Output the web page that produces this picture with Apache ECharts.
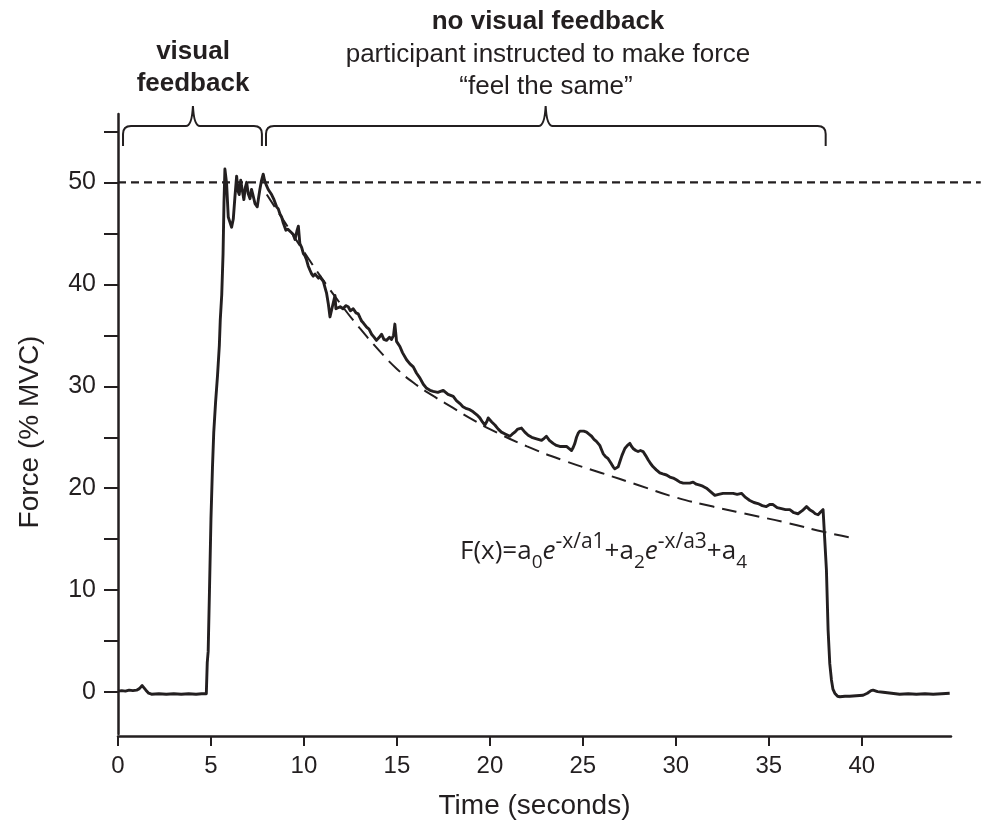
<!DOCTYPE html>
<html>
<head>
<meta charset="utf-8">
<script src="https://cdn.jsdelivr.net/npm/echarts@6/dist/echarts.min.js"></script>
<style>
  html, body { margin: 0; padding: 0; background: #ffffff; }
  #chart { width: 987px; height: 829px; }
</style>
</head>
<body>
<div id="chart"></div>
<script>
// Axis ticks and labels
const timeTicks = [0, 5, 10, 15, 20, 25, 30, 35, 40];
const forceTicks = [0, 5, 10, 15, 20, 25, 30, 35, 40, 45, 50, 55];
const forceLabels = [0, 10, 20, 30, 40, 50];

// Target force level (% MVC) and the time span of its dashed guide
const targetForce = 50;
const targetSpan = [0, 46.4];

// Feedback phases: [start, end, centre] in seconds
const phaseVisual = [0.27, 7.74, 4.03];
const phaseNoVisual = [7.96, 38.06, 23.0];

// Fitted double-exponential decay [time s, force %MVC]
const fitCurve = [
  [8.0, 48.8], [9.0, 46.0], [10.0, 43.2], [11.0, 40.5], [12.0, 38.0], [13.0, 35.7],
  [14.0, 33.6], [15.0, 31.7], [16.0, 30.2], [17.0, 29.0], [18.0, 27.9], [19.0, 26.8],
  [20.0, 25.8], [22.0, 24.1], [24.0, 22.7], [26.0, 21.5], [28.0, 20.3], [30.0, 19.1],
  [32.0, 18.2], [34.0, 17.4], [36.0, 16.6], [38.0, 15.7], [39.3, 15.2]
];

// Recorded force trace [time s, force %MVC]
const forceTrace = [
  [0, 0.1], [0.2, 0.15], [0.4, 0.1], [0.6, 0.2], [0.8, 0.15], [1.0, 0.2], [1.15, 0.35],
  [1.3, 0.65], [1.4, 0.55], [1.5, 0.2], [1.65, -0.1], [1.8, -0.2], [2.2, -0.15], [2.6, -0.2],
  [3.0, -0.15], [3.4, -0.2], [3.8, -0.15], [4.2, -0.2], [4.5, -0.15], [4.75, -0.15],
  [4.8, 2.9], [4.85, 4.0], [4.92, 10], [5.0, 17], [5.08, 22], [5.15, 25.5], [5.25, 28.5],
  [5.35, 31], [5.45, 34], [5.5, 36.5], [5.58, 39], [5.65, 43], [5.7, 48], [5.75, 51.3],
  [5.84, 49.9], [5.93, 46.6], [6.0, 46.2], [6.11, 45.6], [6.2, 46.4], [6.29, 48.6],
  [6.38, 50.6], [6.45, 49.2], [6.52, 48.8], [6.6, 50.2], [6.65, 49.6], [6.77, 48.3],
  [6.85, 49.5], [6.92, 50.0], [7.0, 48.9], [7.1, 48.4], [7.18, 49.3], [7.24, 48.9],
  [7.37, 47.9], [7.49, 47.6], [7.57, 48.6], [7.63, 49.3], [7.72, 50.2], [7.81, 50.8],
  [7.88, 50.2], [7.96, 49.8], [8.08, 49.3], [8.17, 49.2], [8.26, 48.8], [8.39, 48.3],
  [8.53, 47.6], [8.62, 47.4], [8.71, 46.9], [8.8, 46.6], [8.89, 46.0], [9.03, 45.3],
  [9.14, 45.4], [9.25, 45.2], [9.42, 44.9], [9.52, 44.4], [9.62, 45.2], [9.7, 45.7],
  [9.78, 44.0], [9.88, 43.6], [9.97, 43.0], [10.05, 42.8], [10.14, 42.4], [10.23, 41.8],
  [10.32, 41.4], [10.42, 41.0], [10.5, 40.8], [10.6, 41.0], [10.68, 40.9], [10.78, 40.6],
  [10.86, 40.8], [10.95, 40.5], [11.04, 40.3], [11.13, 39.7], [11.22, 39.1], [11.31, 38.1],
  [11.4, 36.8], [11.49, 37.5], [11.58, 37.6], [11.67, 38.9], [11.72, 37.6], [11.8, 37.5],
  [11.95, 37.8], [12.1, 37.6], [12.25, 37.9], [12.38, 37.8], [12.5, 37.4], [12.65, 37.6],
  [12.8, 37.2], [12.92, 37.1], [13.02, 36.7], [13.1, 36.4], [13.2, 36.2], [13.37, 35.8],
  [13.5, 35.6], [13.64, 35.1], [13.78, 34.8], [13.9, 34.5], [14.05, 34.8], [14.18, 35.1],
  [14.3, 34.6], [14.44, 34.5], [14.6, 34.8], [14.71, 34.6], [14.82, 35.0], [14.89, 36.1],
  [14.95, 35.0], [14.98, 34.4], [15.16, 33.9], [15.3, 33.3], [15.52, 32.6], [15.7, 32.2],
  [15.88, 31.9], [16.05, 31.3], [16.24, 30.8], [16.42, 30.2], [16.6, 29.8], [16.78, 29.6],
  [16.95, 29.5], [17.2, 29.4], [17.49, 29.6], [17.75, 29.2], [18.03, 29.0], [18.2, 28.6],
  [18.39, 28.3], [18.55, 28.0], [18.75, 27.8], [18.92, 27.7], [19.1, 27.5], [19.3, 27.2],
  [19.46, 26.9], [19.6, 26.5], [19.73, 26.2], [19.85, 26.6], [19.91, 26.9], [20.1, 26.5],
  [20.27, 26.2], [20.45, 25.8], [20.62, 25.5], [20.85, 25.3], [21.08, 25.1], [21.2, 25.3],
  [21.34, 25.5], [21.5, 25.8], [21.7, 25.9], [21.88, 25.5], [22.06, 25.2], [22.25, 25.0],
  [22.42, 24.9], [22.6, 24.8], [22.78, 24.7], [22.92, 24.9], [23.04, 25.1], [23.2, 24.7],
  [23.4, 24.4], [23.58, 24.2], [23.76, 24.1], [23.95, 24.1], [24.12, 24.1], [24.25, 23.9],
  [24.39, 23.7], [24.48, 24.0], [24.57, 24.4], [24.66, 25.0], [24.75, 25.4], [24.84, 25.6],
  [24.93, 25.7], [25.05, 25.6], [25.2, 25.5], [25.33, 25.3], [25.47, 25.1], [25.6, 24.8],
  [25.73, 24.6], [25.82, 24.4], [25.91, 24.2], [26.0, 23.8], [26.09, 23.4], [26.22, 23.1],
  [26.36, 22.9], [26.5, 22.5], [26.63, 22.1], [26.72, 21.9], [26.81, 21.8], [26.9, 22.1],
  [26.99, 22.6], [27.1, 23.2], [27.26, 23.9], [27.4, 24.2], [27.53, 24.4], [27.62, 24.1],
  [27.7, 23.9], [27.85, 23.7], [27.97, 23.6], [28.1, 23.7], [28.24, 23.6], [28.38, 23.2],
  [28.51, 22.8], [28.65, 22.4], [28.78, 22.1], [28.95, 21.8], [29.14, 21.5], [29.3, 21.4],
  [29.5, 21.3], [29.68, 21.1], [29.86, 21.0], [30.05, 20.8], [30.22, 20.6], [30.4, 20.5],
  [30.57, 20.5], [30.75, 20.5], [30.93, 20.6], [31.1, 20.4], [31.29, 20.3], [31.45, 20.2],
  [31.65, 20.0], [31.85, 19.7], [32.1, 19.3], [32.3, 19.4], [32.54, 19.5], [32.8, 19.5],
  [33.08, 19.5], [33.3, 19.4], [33.53, 19.5], [33.75, 19.1], [33.98, 18.8], [34.2, 18.6],
  [34.42, 18.5], [34.65, 18.3], [34.87, 18.2], [35.05, 18.4], [35.23, 18.4], [35.45, 18.1],
  [35.68, 18.0], [35.9, 17.9], [36.13, 17.9], [36.35, 17.6], [36.57, 17.5], [36.8, 17.8],
  [37.03, 18.2], [37.2, 17.9], [37.38, 17.7], [37.5, 17.5], [37.65, 17.4], [37.8, 17.7],
  [37.92, 17.9], [38.01, 17.8],
  [38.1, 12.0], [38.19, 6.1], [38.28, 2.8], [38.37, 1.2], [38.45, 0.3], [38.55, -0.1],
  [38.7, -0.4], [38.82, -0.45], [39.1, -0.4], [39.35, -0.4], [39.7, -0.35], [40.07, -0.3],
  [40.3, -0.1], [40.5, 0.15], [40.61, 0.2], [40.85, 0.05], [41.15, 0.0], [41.6, -0.1],
  [42.04, -0.2], [42.5, -0.15], [42.94, -0.2], [43.4, -0.15], [43.84, -0.2], [44.3, -0.15],
  [44.73, -0.1]
];

const INK = '#231f20';
const SANS = "'Liberation Sans', Arial, sans-serif";
const FORMULA_FONT = "'Open Sans', sans-serif";

const chart = echarts.init(document.getElementById('chart'), null, { renderer: 'canvas' });

// Curly brace above a time span, drawn in pixel space from data coordinates
function renderBrace(params, api) {
  const top = params.coordSys.y + 12;
  const x0 = api.coord([api.value(0), 0])[0];
  const x1 = api.coord([api.value(1), 0])[0];
  const xm = api.coord([api.value(2), 0])[0];
  const r = 8, tip = 20, cusp = 20;
  const d = [
    'M', x0, top + tip,
    'L', x0, top + r,
    'Q', x0, top, x0 + r, top,
    'L', xm - 7, top,
    'Q', xm - 1, top, xm, top - cusp,
    'Q', xm + 1, top, xm + 7, top,
    'L', x1 - r, top,
    'Q', x1, top, x1, top + r,
    'L', x1, top + tip
  ].join(' ');
  return {
    type: 'path',
    shape: { pathData: d },
    style: { fill: null, stroke: INK, lineWidth: 2 }
  };
}

// Horizontal dashed guide at the target force
function renderTarget(params, api) {
  const a = api.coord([api.value(0), api.value(2)]);
  const b = api.coord([api.value(1), api.value(2)]);
  return {
    type: 'line',
    shape: { x1: a[0], y1: a[1], x2: b[0], y2: b[1] },
    style: { stroke: INK, lineWidth: 2.2, lineDash: [8, 5] }
  };
}

const option = {
  animation: false,
  backgroundColor: '#ffffff',
  grid: { left: 118, right: 36, top: 114, bottom: 95 },
  xAxis: {
    type: 'value',
    min: 0,
    max: 44.8,
    offset: 2,
    name: 'Time (seconds)',
    nameLocation: 'middle',
    nameGap: 56,
    nameTextStyle: { fontFamily: SANS, fontSize: 28, color: INK },
    axisLine: { onZero: false, lineStyle: { color: INK, width: 2.5 } },
    axisTick: { customValues: timeTicks, length: 10, lineStyle: { color: INK, width: 2 } },
    axisLabel: { customValues: timeTicks, margin: 18, fontFamily: SANS, fontSize: 24, color: INK },
    splitLine: { show: false }
  },
  yAxis: {
    type: 'value',
    min: -4.1,
    max: 56.7,
    axisLine: { onZero: false, lineStyle: { color: INK, width: 2.5 } },
    axisTick: { customValues: forceTicks, length: 14, lineStyle: { color: INK, width: 2 } },
    axisLabel: { customValues: forceLabels, margin: 22, fontFamily: SANS, fontSize: 25, color: INK },
    splitLine: { show: false }
  },
  series: [
    {
      type: 'custom',
      name: 'target',
      renderItem: renderTarget,
      clip: false,
      encode: { x: [0, 1], y: 2 },
      data: [[targetSpan[0], targetSpan[1], targetForce]],
      silent: true,
      z: 1
    },
    {
      type: 'custom',
      name: 'phases',
      renderItem: renderBrace,
      clip: false,
      encode: { x: [0, 1, 2] },
      data: [phaseVisual, phaseNoVisual],
      silent: true,
      z: 1
    },
    {
      type: 'line',
      name: 'fit',
      data: fitCurve,
      smooth: true,
      showSymbol: false,
      symbol: 'none',
      lineStyle: { color: INK, width: 2, type: [15, 8] },
      silent: true,
      z: 2
    },
    {
      type: 'line',
      name: 'force',
      data: forceTrace,
      showSymbol: false,
      symbol: 'none',
      lineStyle: { color: INK, width: 2.9, join: 'round' },
      silent: true,
      z: 3
    }
  ],
  graphic: [
    {
      type: 'text', x: 30, y: 432, rotation: Math.PI / 2,
      style: { text: 'Force (% MVC)', font: "28px " + SANS, fill: INK, align: 'center', verticalAlign: 'middle' }
    },
    {
      type: 'text', x: 193, y: 52,
      style: { text: 'visual', font: "bold 26px " + SANS, fill: INK, align: 'center', verticalAlign: 'middle' }
    },
    {
      type: 'text', x: 193, y: 84,
      style: { text: 'feedback', font: "bold 26px " + SANS, fill: INK, align: 'center', verticalAlign: 'middle' }
    },
    {
      type: 'text', x: 548, y: 22,
      style: { text: 'no visual feedback', font: "bold 26px " + SANS, fill: INK, align: 'center', verticalAlign: 'middle' }
    },
    {
      type: 'text', x: 548, y: 55,
      style: { text: 'participant instructed to make force', font: "26px " + SANS, fill: INK, align: 'center', verticalAlign: 'middle' }
    },
    {
      type: 'text', x: 546, y: 87,
      style: { text: '\u201cfeel the same\u201d', font: "26px " + SANS, fill: INK, align: 'center', verticalAlign: 'middle' }
    },
    {
      type: 'text', x: 460, y: 552,
      style: {
        text: '{n|F(x)=a}{sb|0}{it|e}{sp|-x/a1}{n|+a}{sb|2}{it|e}{sp|-x/a3}{n|+a}{sb|4}',
        fill: INK,
        align: 'left',
        verticalAlign: 'middle',
        rich: {
          n: { fontFamily: FORMULA_FONT, fontSize: 26, lineHeight: 40, verticalAlign: 'middle', color: INK },
          it: { fontFamily: FORMULA_FONT, fontSize: 26, fontStyle: 'italic', lineHeight: 40, verticalAlign: 'middle', color: INK },
          sb: { fontFamily: FORMULA_FONT, fontSize: 19, lineHeight: 19, verticalAlign: 'bottom', color: INK },
          sp: { fontFamily: FORMULA_FONT, fontSize: 21, lineHeight: 21, verticalAlign: 'top', color: INK }
        }
      }
    }
  ]
};

chart.setOption(option);
</script>
</body>
</html>
